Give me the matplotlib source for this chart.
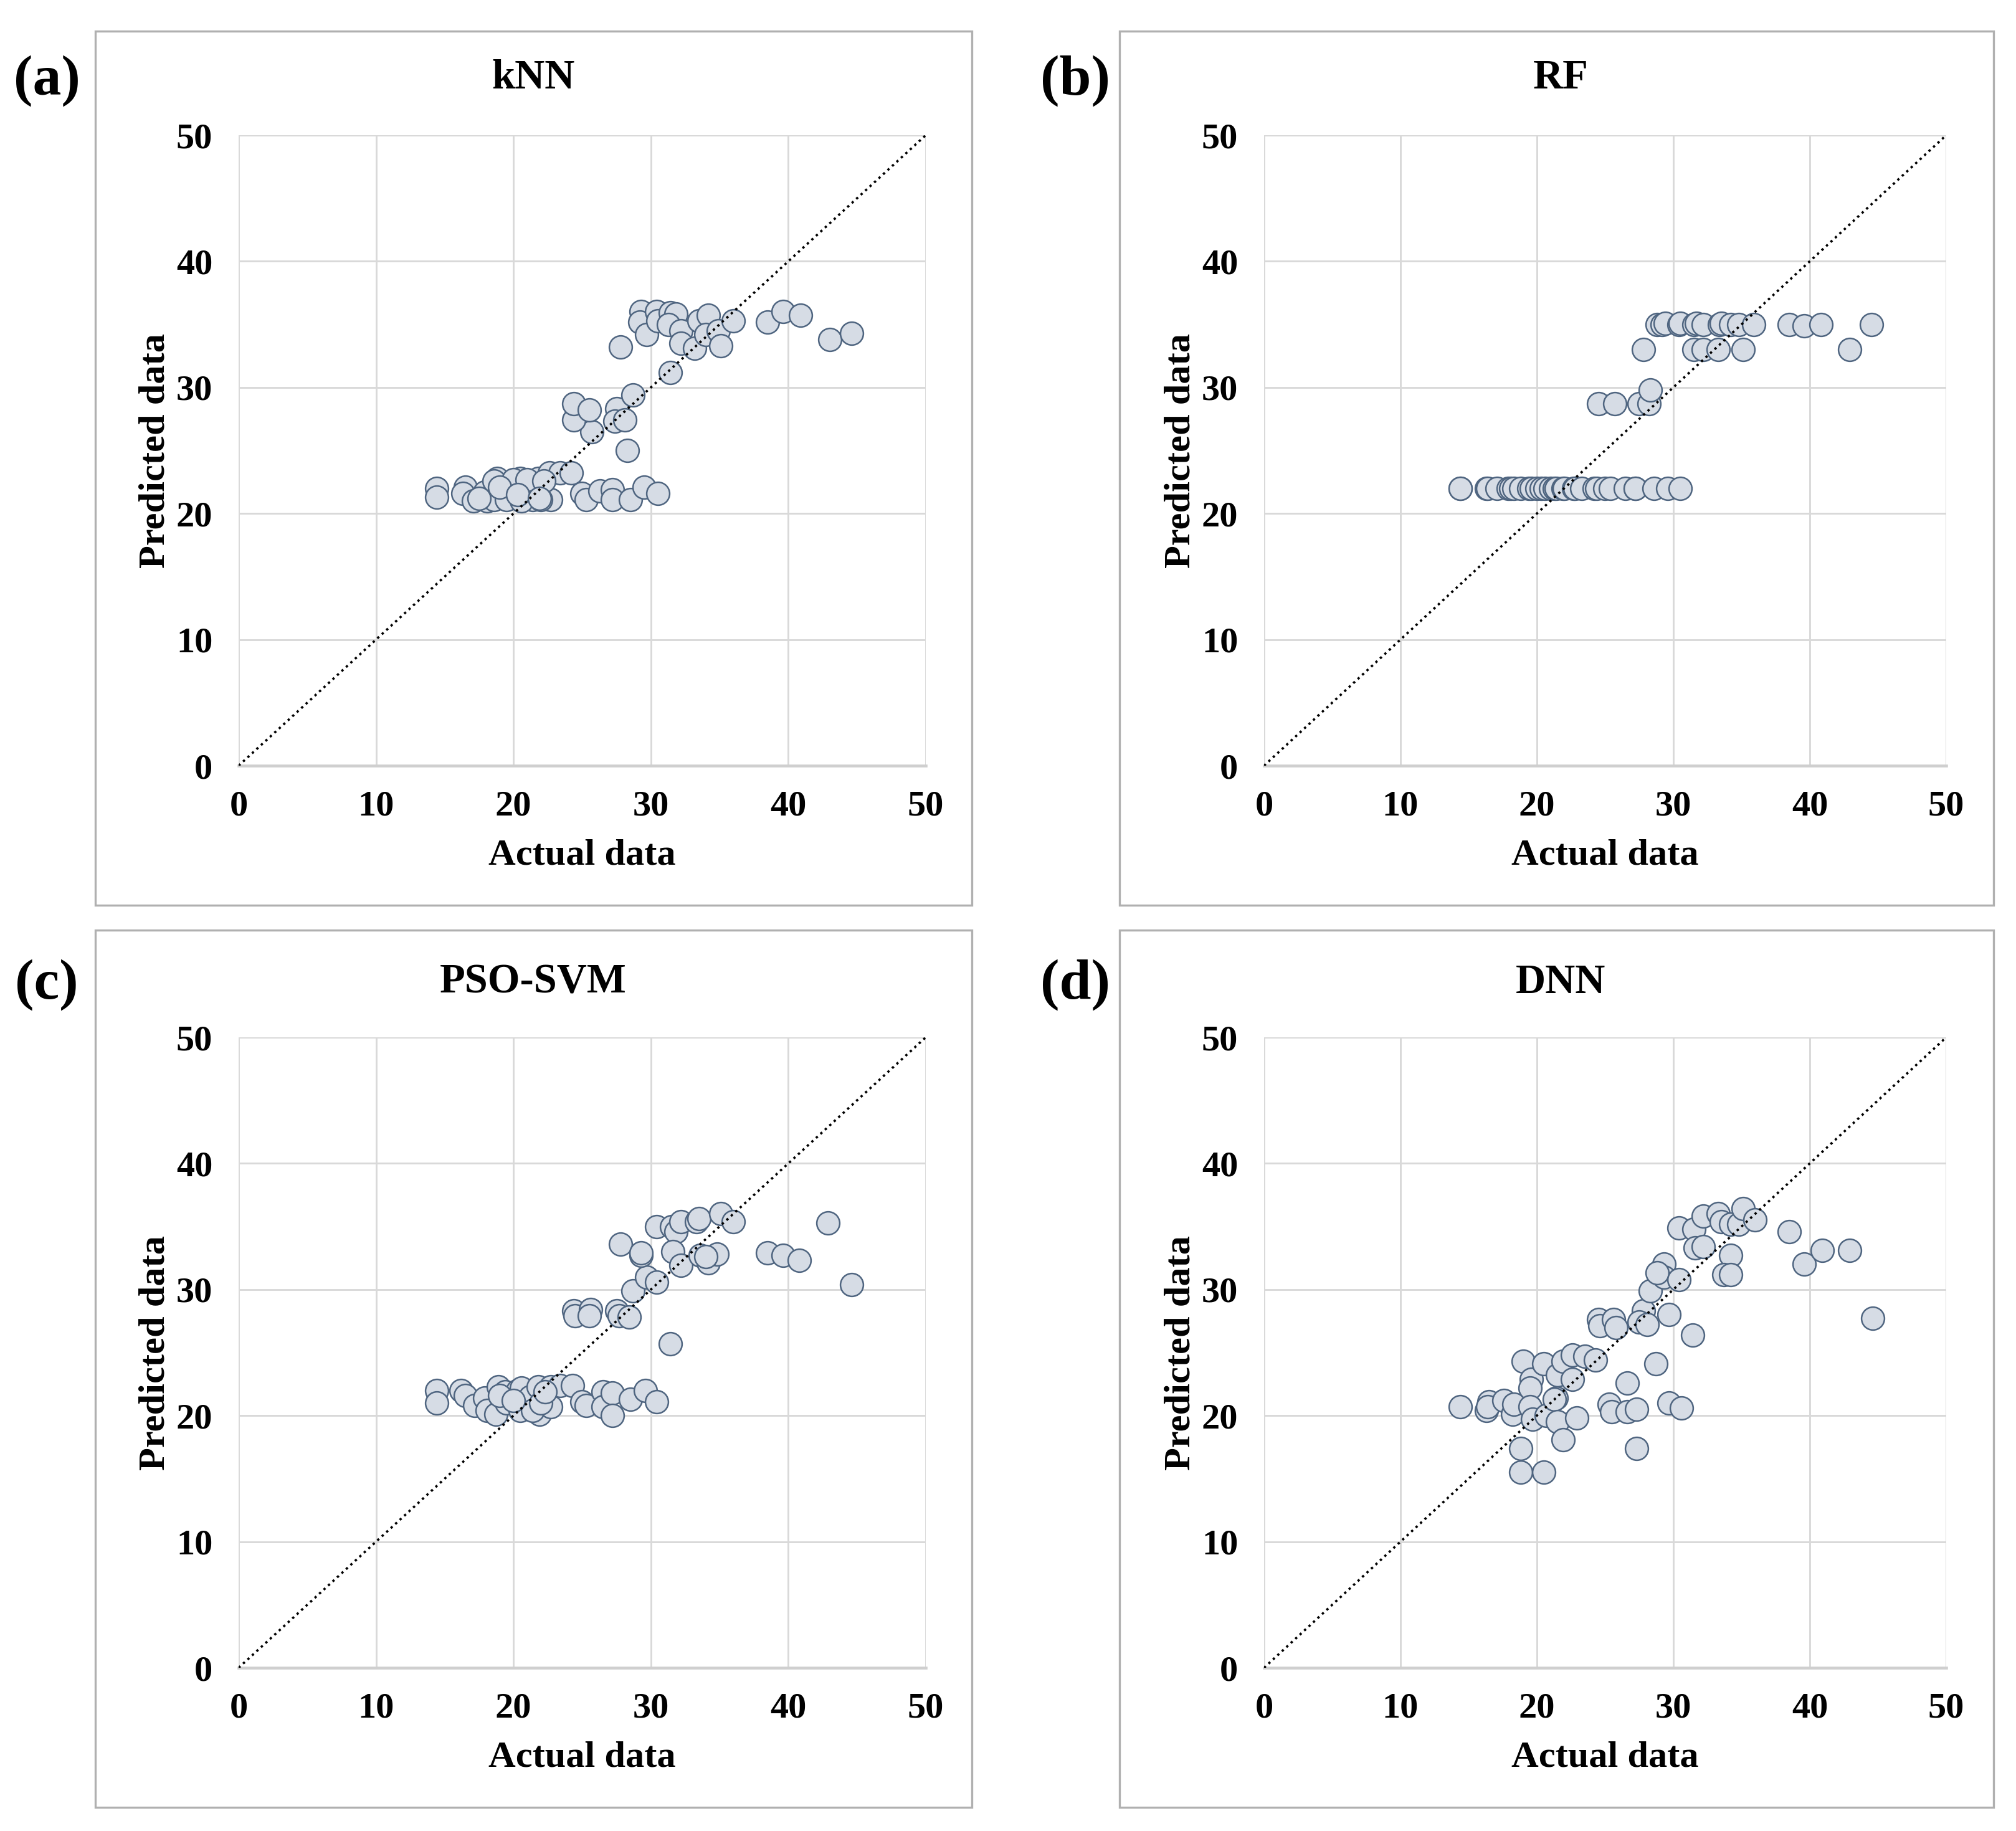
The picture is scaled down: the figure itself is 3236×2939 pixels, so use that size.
import matplotlib
matplotlib.use("Agg")
import matplotlib.pyplot as plt
from matplotlib.patches import Rectangle

plt.rcParams['font.family'] = ['Liberation Serif', 'DejaVu Serif']
plt.rcParams['font.weight'] = 'bold'

# ---------------------------------------------------------------------------
# data (actual vs predicted)
# ---------------------------------------------------------------------------
knn_actual = [14.4, 14.4, 16.5, 16.3, 17.1, 17.9, 18.1, 18.8, 18.6, 19.4, 19.5, 20.5,
              20.2, 21.3, 21.8, 22.6, 23.4, 24.2, 21.4, 22.7, 20.6, 22.0, 25.0, 25.3,
              26.3, 27.2, 27.2, 28.5, 29.5, 30.5, 18.6, 20.0, 21.0, 22.2, 19.0, 20.3,
              17.5, 21.9,
              28.3, 25.7, 24.4, 24.4, 25.5, 27.5, 27.4, 28.1, 28.7, 31.4,
              27.8, 29.3, 29.2, 29.7, 30.4, 30.5, 31.4, 31.8, 31.3, 32.2, 32.2, 33.2,
              33.5, 34.2, 34.0, 34.9, 35.1, 36.0, 38.5, 39.6, 40.9, 43.0, 44.6]
knn_pred = [22.0, 21.3, 22.1, 21.6, 21.0, 21.7, 21.0, 22.8, 21.1, 21.9, 21.1, 22.8,
            21.9, 21.9, 22.8, 23.2, 23.2, 23.2, 21.1, 21.1, 21.0, 21.1, 21.6, 21.1,
            21.8, 21.9, 21.1, 21.1, 22.1, 21.6, 22.6, 22.7, 22.7, 22.6, 22.1, 21.5,
            21.2, 21.2,
            25.0, 26.5, 27.4, 28.7, 28.2, 28.3, 27.3, 27.4, 29.4, 31.2,
            33.2, 36.0, 35.2, 34.2, 36.0, 35.3, 35.9, 35.8, 35.0, 34.5, 33.5, 33.1,
            35.3, 35.7, 34.2, 34.5, 33.3, 35.3, 35.2, 36.0, 35.7, 33.8, 34.3]

rf_actual = [14.4, 14.4, 16.3, 16.4, 17.1, 17.9, 18.1, 18.3, 18.8, 19.4, 19.6, 20.0,
             20.3, 20.6, 21.0, 21.3, 21.4, 21.9, 22.0, 22.7, 22.8, 23.3, 24.2, 24.4,
             25.0, 25.4, 26.5, 27.2, 27.2, 28.6, 29.6, 30.5,
             24.5, 25.7, 27.5, 28.2, 28.3,
             27.8, 31.5, 32.2, 33.3, 35.1, 42.9,
             28.8, 29.2, 29.4, 30.4, 30.5, 31.5, 31.7, 32.2, 33.4, 33.5, 34.2, 34.8,
             35.9, 38.5, 39.6, 40.8, 44.5]
rf_pred = [22.0] * 32 + \
          [28.7, 28.7, 28.7, 28.7, 29.8] + \
          [33.0, 33.0, 33.0, 33.0, 33.0, 33.0] + \
          [35.0, 35.0, 35.1, 35.0, 35.1, 35.0, 35.1, 35.0, 35.0, 35.1, 35.0, 35.0,
           35.0, 35.0, 34.9, 35.0, 35.0]

pso_actual = [14.4, 14.4, 16.2, 16.5, 17.2, 17.9, 18.1, 18.7, 18.9, 19.5, 19.4, 20.3,
              20.6, 20.5, 21.2, 21.8, 21.9, 21.4, 22.7, 22.7, 23.4, 24.3, 25.0, 25.3,
              26.5, 26.5, 27.2, 27.2, 28.5, 29.6, 30.4, 19.0, 20.0, 22.0, 22.3,
              31.4, 28.7, 24.4, 24.5, 25.6, 25.5, 27.5, 27.7, 28.4, 29.7, 30.4,
              27.8, 29.3, 29.3, 30.4, 31.5, 31.8, 32.2, 33.3, 33.5, 31.6, 32.2, 33.6,
              34.2, 34.8, 34.0, 35.1, 36.0, 38.5, 39.6, 40.8, 42.9, 44.6]
pso_pred = [22.0, 21.0, 22.0, 21.6, 20.8, 21.4, 20.4, 20.1, 22.3, 21.0, 21.9, 22.0,
            22.2, 20.4, 21.5, 22.3, 20.1, 20.4, 22.3, 20.7, 22.4, 22.4, 21.1, 20.8,
            21.9, 20.7, 21.8, 20.0, 21.3, 22.0, 21.1, 21.6, 21.2, 21.0, 21.9,
            25.7, 29.9, 28.3, 27.9, 28.4, 27.9, 28.3, 27.9, 27.8, 31.0, 30.6,
            33.6, 32.7, 32.9, 35.0, 35.0, 34.6, 35.4, 35.4, 35.6, 33.0, 31.9, 32.7,
            32.1, 32.8, 32.6, 36.0, 35.4, 32.9, 32.7, 32.3, 35.3, 30.4]

dnn_actual = [14.4, 16.5, 16.3, 16.4, 17.6, 18.2, 18.3, 18.8, 18.8, 20.5, 19.0, 19.6,
              19.5, 20.5, 19.5, 19.7, 20.7, 21.4, 21.3, 21.5, 21.5, 21.9, 21.9, 22.6,
              22.9, 22.6, 23.5, 24.3, 24.5, 24.6, 25.6, 25.8, 25.3, 25.5, 26.6, 26.6,
              27.3, 27.3, 27.8, 27.5, 28.1, 28.7, 28.3, 29.3, 29.3, 28.8, 30.4, 29.7,
              29.7, 30.6, 31.4, 30.4, 31.5, 31.6, 32.2, 32.2, 33.3, 33.5, 34.2, 33.7,
              34.2, 34.2, 34.8, 35.1, 36.0, 38.5, 39.6, 40.9, 42.9, 44.6]
dnn_pred = [20.7, 21.1, 20.4, 20.7, 21.2, 20.1, 20.9, 17.4, 15.5, 15.5, 24.3, 22.9,
            22.2, 24.1, 20.7, 19.7, 20.0, 21.4, 21.3, 23.2, 19.5, 18.1, 24.3, 22.9,
            19.8, 24.8, 24.7, 24.4, 27.6, 27.1, 27.6, 27.0, 20.9, 20.3, 22.6, 20.3,
            20.5, 17.4, 28.3, 27.4, 27.2, 24.1, 29.9, 32.0, 31.0, 31.3, 30.8, 28.0,
            21.0, 20.6, 26.4, 34.9, 34.8, 33.3, 33.4, 35.8, 36.0, 35.4, 32.7, 31.2,
            31.2, 35.2, 35.2, 36.4, 35.5, 34.6, 32.0, 33.1, 33.1, 27.7]

titles = ['kNN', 'RF', 'PSO-SVM', 'DNN']
letters = ['(a)', '(b)', '(c)', '(d)']
ticks = [0, 10, 20, 30, 40, 50]

# ---------------------------------------------------------------------------
# layout in pixels of the 3237 x 2939 picture
# ---------------------------------------------------------------------------
W, H = 3237, 2939
# (box l, t, r, b), (axes l, t, r, b), letter (x, y), title (x, y)
layout = [
    ((153, 50, 1560, 1453), (383, 217, 1486, 1229), (75, 130), (856, 125)),
    ((1797, 50, 3200, 1453), (2029, 217, 3124, 1229), (1726, 130), (2505, 125)),
    ((153, 1493, 1560, 2901), (383, 1665, 1486, 2677), (75, 1581), (856, 1577)),
    ((1797, 1493, 3200, 2901), (2029, 1665, 3124, 2677), (1726, 1581), (2505, 1577)),
]


def rect(l, t, r, b):
    return [l / W, 1 - b / H, (r - l) / W, (b - t) / H]


fig = plt.figure(figsize=(W / 300, H / 300), dpi=300)

series = [(knn_actual, knn_pred), (rf_actual, rf_pred),
          (pso_actual, pso_pred), (dnn_actual, dnn_pred)]

for i, (xs, ys) in enumerate(series):
    box, axpos, let_xy, tit_xy = layout[i]
    bl, bt, br, bb = rect(*box)
    fig.patches.append(Rectangle((bl, bt), br, bb, transform=fig.transFigure,
                                 fill=False, edgecolor='#B0B0B0', linewidth=0.8))

    ax = fig.add_axes(rect(*axpos))
    ax.set_xlim(0, 50)
    ax.set_ylim(0, 50)
    ax.set_xticks(ticks)
    ax.set_yticks(ticks)
    ax.grid(True, color='#D9D9D9', linewidth=0.7)
    ax.set_axisbelow(True)
    for s in ['top', 'right', 'left']:
        ax.spines[s].set_visible(False)
    ax.spines['bottom'].set_color('#CFCFCF')
    ax.spines['bottom'].set_linewidth(1.1)
    ax.tick_params(length=0, labelsize=14)
    ax.tick_params(axis='y', pad=10)
    ax.tick_params(axis='x', pad=9.5)

    ax.scatter(xs, ys, s=78, facecolor='#D6DCE5', edgecolor='#4F6580',
               linewidth=0.6, zorder=2, clip_on=False)
    ax.plot([0, 50], [0, 50], color='black', linestyle=(0, (1, 1.6)),
            linewidth=0.9, zorder=3)

    ax.set_xlabel('Actual data', fontsize=14.5, fontweight='bold')
    ax.set_ylabel('Predicted data', fontsize=14.5, fontweight='bold')
    ax.xaxis.set_label_coords(0.5, -0.116)
    ax.yaxis.set_label_coords(-0.097, 0.5)

    fig.text(let_xy[0] / W, 1 - let_xy[1] / H, letters[i], fontsize=22,
             fontweight='bold', ha='center', va='center')
    fig.text(tit_xy[0] / W, 1 - tit_xy[1] / H, titles[i], fontsize=16,
             fontweight='bold', ha='center', va='center')

fig.savefig('out.png', dpi=300, facecolor='white')
